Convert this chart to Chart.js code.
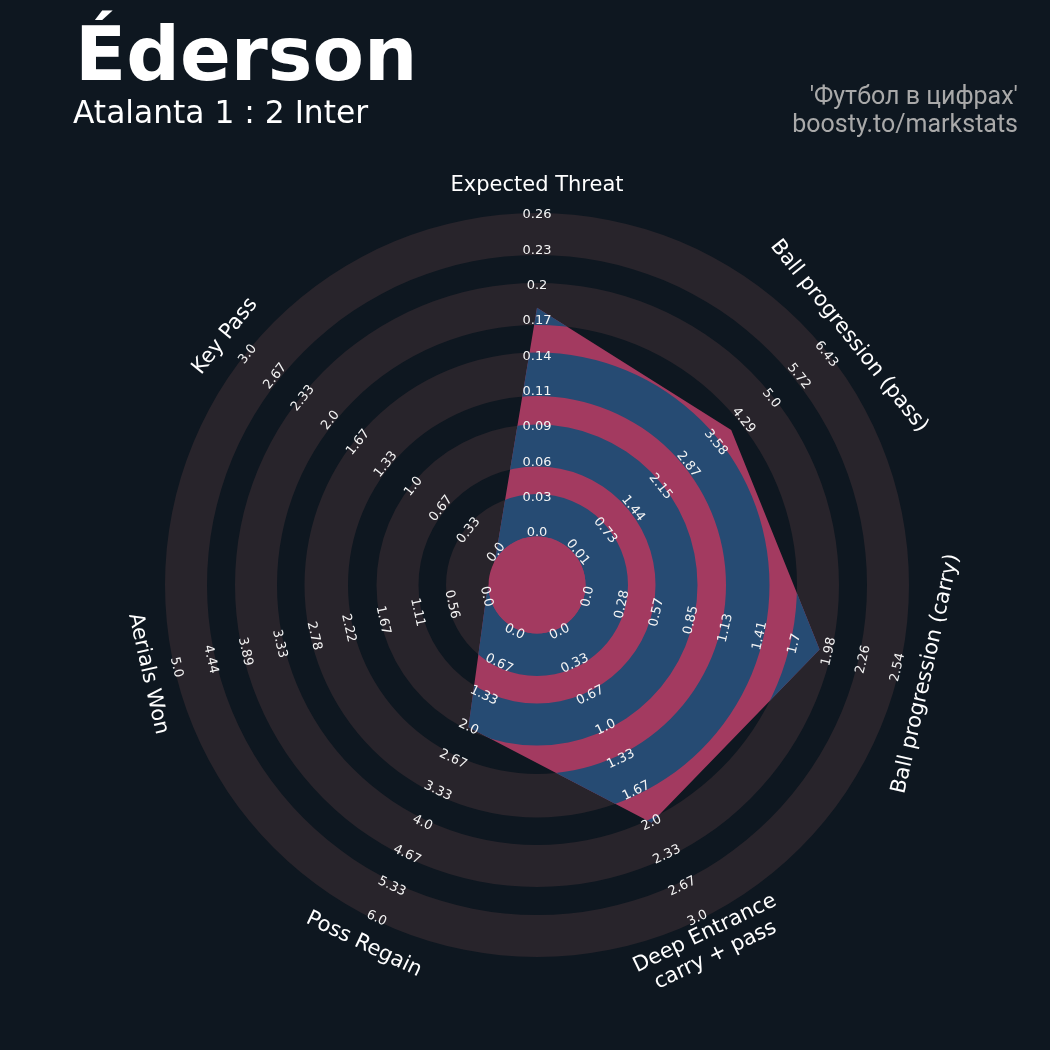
<!DOCTYPE html>
<html>
<head>
<meta charset="utf-8">
<script src="https://cdn.jsdelivr.net/npm/chart.js@4.4.1/dist/chart.umd.min.js"></script>
<style>
html, body { margin: 0; padding: 0; background: #0e1720; }
#wrap { position: relative; width: 1050px; height: 1050px; overflow: hidden; }
#radar { position: absolute; left: 0; top: 0; }
.txt { position: absolute; white-space: nowrap; line-height: 1; }
#title { left: 75px; top: 10px; font: bold 75px 'DejaVu Sans', sans-serif; color: #ffffff; }
#subtitle { left: 73px; top: 94px; font: 31.3px 'DejaVu Sans', sans-serif; color: #ffffff; }
#credit { right: 32px; top: 82px; font: 25px Roboto, sans-serif; color: #a9a9a9; text-align: right; line-height: 28px; }
</style>
</head>
<body>
<div id="wrap">
  <canvas id="radar" width="1050" height="1050"></canvas>
  <div class="txt" id="title">Éderson</div>
  <div class="txt" id="subtitle">Atalanta 1 : 2 Inter</div>
  <div class="txt" id="credit">'Футбол в цифрах'<br>boosty.to/markstats</div>
</div>
<script>
// parameters, clockwise from the top
const params = [
    'Expected Threat',
    'Ball progression (pass)',
    'Ball progression (carry)',
    ['Deep Entrance', 'carry + pass'],
    'Poss Regain',
    'Aerials Won',
    'Key Pass',
];
const lowRange = [0, 0.014, 0, 0, 0, 0, 0];
const highRange = [0.257, 6.435, 2.54, 3, 6, 5, 3];
const values = [0.182, 3.98, 1.9, 2.0, 2.0, 0, 0];

const tickLabels = [
    ['0.0', '0.03', '0.06', '0.09', '0.11', '0.14', '0.17', '0.2', '0.23', '0.26'],
    ['0.01', '0.73', '1.44', '2.15', '2.87', '3.58', '4.29', '5.0', '5.72', '6.43'],
    ['0.0', '0.28', '0.57', '0.85', '1.13', '1.41', '1.7', '1.98', '2.26', '2.54'],
    ['0.0', '0.33', '0.67', '1.0', '1.33', '1.67', '2.0', '2.33', '2.67', '3.0'],
    ['0.0', '0.67', '1.33', '2.0', '2.67', '3.33', '4.0', '4.67', '5.33', '6.0'],
    ['0.0', '0.56', '1.11', '1.67', '2.22', '2.78', '3.33', '3.89', '4.44', '5.0'],
    ['0.0', '0.33', '0.67', '1.0', '1.33', '1.67', '2.0', '2.33', '2.67', '3.0'],
];

const RING = '#28242b';
const RED = '#a33a60';
const BLUE = '#264b73';

// ring geometry as fractions of the scale radius
const CENTER_FRAC = 48.5 / 370;
const RING_FRACS = [[48.5, 91], [118.5, 160.5], [189, 232.5], [260, 302], [330, 372]]
    .map(([a, b]) => [a / 370, b / 370]);

const normalized = values.map((v, i) => (v - lowRange[i]) / (highRange[i] - lowRange[i]));

function annulus(ctx, cx, cy, r0, r1) {
    ctx.beginPath();
    ctx.arc(cx, cy, r1, 0, Math.PI * 2);
    ctx.arc(cx, cy, r0, 0, Math.PI * 2, true);
    ctx.closePath();
    ctx.fill();
}

function rotationFor(angle) {
    let deg = angle * 180 / Math.PI;
    if (deg > 90 && deg < 270) deg -= 180;
    return deg * Math.PI / 180;
}

const ringsPlugin = {
    id: 'rings',
    beforeDatasetsDraw(chart) {
        const s = chart.scales.r;
        const ctx = chart.ctx;
        ctx.save();
        ctx.fillStyle = RING;
        RING_FRACS.forEach(([a, b]) => annulus(ctx, s.xCenter, s.yCenter, a * s.drawingArea, b * s.drawingArea));
        ctx.restore();
    },
    afterDatasetsDraw(chart) {
        const s = chart.scales.r;
        const ctx = chart.ctx;
        const pts = chart.getDatasetMeta(0).data;
        // rings inside the polygon turn blue
        ctx.save();
        ctx.beginPath();
        pts.forEach((p, i) => (i ? ctx.lineTo(p.x, p.y) : ctx.moveTo(p.x, p.y)));
        ctx.closePath();
        ctx.clip();
        ctx.fillStyle = BLUE;
        RING_FRACS.forEach(([a, b]) => annulus(ctx, s.xCenter, s.yCenter, a * s.drawingArea, b * s.drawingArea));
        ctx.restore();

        ctx.save();
        ctx.fillStyle = RED;
        ctx.beginPath();
        ctx.arc(s.xCenter, s.yCenter, CENTER_FRAC * s.drawingArea, 0, Math.PI * 2);
        ctx.fill();

        ctx.textAlign = 'center';
        ctx.textBaseline = 'middle';
        params.forEach((label, i) => {
            const angle = s.getIndexAngle(i);
            const rot = rotationFor(angle);
            // tick labels along each spoke
            ctx.fillStyle = '#f4f4f4';
            ctx.font = "13px 'DejaVu Sans'";
            tickLabels[i].forEach((t, j) => {
                const p = s.getPointPositionForValue(i, j / (tickLabels[i].length - 1));
                ctx.save();
                ctx.translate(p.x, p.y);
                ctx.rotate(rot);
                ctx.fillText(t, 0, 0);
                ctx.restore();
            });
            // parameter name
            const q = s.getPointPosition(i, s.drawingArea + 29);
            const lines = Array.isArray(label) ? label : [label];
            ctx.fillStyle = '#ffffff';
            ctx.font = "21px 'DejaVu Sans'";
            ctx.save();
            ctx.translate(q.x, q.y);
            ctx.rotate(rot);
            lines.forEach((ln, k) => ctx.fillText(ln, 0, (k - (lines.length - 1) / 2) * 24));
            ctx.restore();
        });
        ctx.restore();
    },
};

new Chart(document.getElementById('radar'), {
    type: 'radar',
    data: {
        labels: params,
        datasets: [{
            data: normalized,
            backgroundColor: RED,
            borderWidth: 0,
            pointRadius: 0,
            fill: 'start',
        }],
    },
    options: {
        responsive: false,
        animation: false,
        layout: { padding: { left: 167, top: 215, right: 1050 - 167 - 740, bottom: 1050 - 215 - 740 } },
        plugins: { legend: { display: false }, tooltip: { enabled: false } },
        scales: {
            r: {
                min: -52 / 318,
                max: 1,
                grid: { display: false },
                angleLines: { display: false },
                ticks: { display: false },
                pointLabels: { display: false },
            },
        },
    },
    plugins: [ringsPlugin],
});
</script>
</body>
</html>
